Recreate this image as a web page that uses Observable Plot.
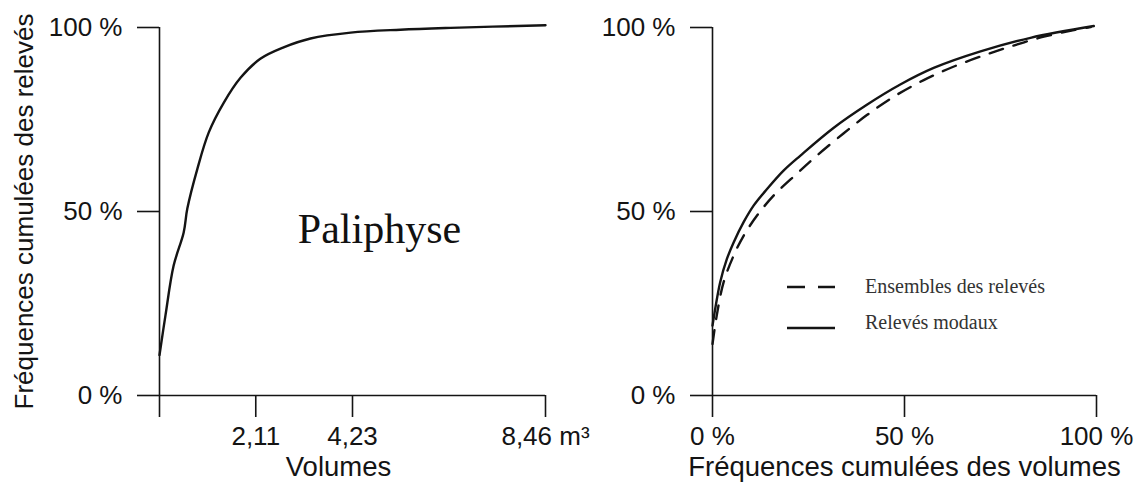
<!DOCTYPE html>
<html><head><meta charset="utf-8">
<script src="https://cdn.jsdelivr.net/npm/d3@7"></script>
<script src="https://cdn.jsdelivr.net/npm/@observablehq/plot@0.6"></script>
<style>
body{margin:0;background:#fff;}
#wrap{position:relative;width:1145px;height:484px;overflow:hidden;background:#fff;}
#left{position:absolute;left:0;top:0;}
#right{position:absolute;left:580px;top:0;}
#legend{position:absolute;left:780px;top:270px;}
svg{overflow:visible;}
</style></head><body>
<div id="wrap"><div id="left"></div><div id="right"></div><div id="legend"></div></div>
<script>
// ---- Left panel: cumulative frequency of records vs volume (m3)
const volumes      = [0, 0.13, 0.31, 0.53, 0.61, 0.83, 1.08, 1.41, 1.78, 2.21, 2.72, 3.31, 4.19, 5.28, 6.38, 8.46];
const cumReleves   = [11, 21.7, 35.3, 44.3, 50.8, 61.6, 71.5, 79.6, 86.4, 91.5, 94.6, 97.0, 98.6, 99.4, 99.9, 100.6];
const volumeTicks  = [0, 2.11, 4.23, 8.46];
const volumeTickLabels = ["", "2,11", "4,23", "8,46 m³"];

// ---- Right panel: cumulative frequency of records vs cumulative frequency of volumes
const freqEnsemble = [0, 1.1, 2.9, 5.5, 8.1, 11.6, 15.9, 22.0, 27.2, 34.1, 40.2, 47.2, 55.0, 62.4, 70.6, 78.4, 86.3, 94.1, 98.5];
const cumEnsemble  = [14.0, 21.7, 30.8, 38.0, 43.4, 48.9, 54.3, 60.3, 65.2, 71.2, 76.2, 81.2, 85.7, 89.2, 92.4, 95.1, 97.5, 99.3, 100.1];
const freqModaux   = [0, 0.7, 2.0, 3.75, 5.5, 8.1, 10.7, 14.2, 18.5, 22.9, 31.5, 40.2, 48.9, 57.6, 69.8, 82.8, 99.3];
const cumModaux    = [19.0, 23.5, 30.8, 37.1, 41.6, 47.1, 51.6, 56.1, 61.1, 65.2, 72.7, 79.0, 84.5, 89.0, 93.5, 97.2, 100.4];

const pctTicks = [0, 50, 100];
const seriesNames = ["Ensembles des relevés", "Relevés modaux"];
const panelTitle = "Paliphyse";
const yLabel = "Fréquences cumulées des relevés";
const xLabelLeft = "Volumes";
const xLabelRight = "Fréquences cumulées des volumes";

const ink = "#141414";
const sans = "'Liberation Sans', Arial, Helvetica, sans-serif";
const serif = "'Liberation Serif', 'Times New Roman', serif";
const pctFmt = d => d + " %";

const leftData = volumes.map((v, i) => ({v, c: cumReleves[i]}));
const ensData = freqEnsemble.map((f, i) => ({f, c: cumEnsemble[i]}));
const modData = freqModaux.map((f, i) => ({f, c: cumModaux[i]}));

const left = Plot.plot({
  width: 580, height: 484,
  marginLeft: 159, marginRight: 35, marginTop: 27, marginBottom: 89,
  style: {fontFamily: sans, fontSize: "26px", color: ink, background: "transparent", overflow: "visible"},
  x: {domain: [0, 8.46]},
  y: {domain: [0, 100]},
  marks: [
    Plot.ruleX([0], {stroke: ink, strokeWidth: 1.6}),
    Plot.ruleY([0], {stroke: ink, strokeWidth: 1.6}),
    Plot.axisY(pctTicks, {tickSize: 22, tickPadding: 15, tickFormat: pctFmt, label: null, strokeWidth: 1.6, stroke: ink}),
    Plot.axisX(volumeTicks, {tickSize: 22, tickPadding: 9, tickFormat: d => volumeTickLabels[volumeTicks.indexOf(d)], label: null, strokeWidth: 1.6, stroke: ink}),
    Plot.line(leftData, {x: "v", y: "c", curve: "catmull-rom", stroke: ink, strokeWidth: 2.4}),
    Plot.text([yLabel], {text: d => d, frameAnchor: "left", rotate: -90, dx: -135, textAnchor: "middle", lineAnchor: "middle", fill: ink}),
    Plot.text([xLabelLeft], {text: d => d, frameAnchor: "bottom", dx: -14, dy: 80, lineAnchor: "bottom", fontSize: 27.5, fill: ink}),
    Plot.text([panelTitle], {text: d => d, frameAnchor: "middle", dx: 27, dy: 31, lineAnchor: "bottom", fontFamily: serif, fontSize: 42, fill: "#111"})
  ]
});
document.getElementById("left").appendChild(left);

const right = Plot.plot({
  width: 565, height: 484,
  marginLeft: 132, marginRight: 49, marginTop: 27, marginBottom: 89,
  style: {fontFamily: sans, fontSize: "26px", color: ink, background: "transparent", overflow: "visible"},
  x: {domain: [0, 100]},
  y: {domain: [0, 100]},
  marks: [
    Plot.ruleX([0], {stroke: ink, strokeWidth: 1.6}),
    Plot.ruleY([0], {stroke: ink, strokeWidth: 1.6}),
    Plot.axisY(pctTicks, {tickSize: 22, tickPadding: 15, tickFormat: pctFmt, label: null, strokeWidth: 1.6, stroke: ink}),
    Plot.axisX(pctTicks, {tickSize: 22, tickPadding: 9, tickFormat: pctFmt, label: null, strokeWidth: 1.6, stroke: ink}),
    Plot.line(ensData, {x: "f", y: "c", curve: "catmull-rom", stroke: ink, strokeWidth: 2.4, strokeDasharray: "14,11"}),
    Plot.line(modData, {x: "f", y: "c", curve: "catmull-rom", stroke: ink, strokeWidth: 2.4}),
    Plot.text([xLabelRight], {text: d => d, frameAnchor: "bottom", dy: 80, lineAnchor: "bottom", fontSize: 27.5, fill: ink})
  ]
});
document.getElementById("right").appendChild(right);

// legend (inside the right panel)
const ns = "http://www.w3.org/2000/svg";
const lg = document.createElementNS(ns, "svg");
lg.setAttribute("width", 300); lg.setAttribute("height", 80);
const rows = [
  {name: seriesNames[0], dash: "18,13", ly: 17, ty: 22.5},
  {name: seriesNames[1], dash: null, ly: 58, ty: 58.5}
];
rows.forEach(r => {
  const l = document.createElementNS(ns, "line");
  l.setAttribute("x1", 7); l.setAttribute("x2", 55);
  l.setAttribute("y1", r.ly); l.setAttribute("y2", r.ly);
  l.setAttribute("stroke", ink); l.setAttribute("stroke-width", 2.6);
  if (r.dash) l.setAttribute("stroke-dasharray", r.dash);
  lg.appendChild(l);
  const t = document.createElementNS(ns, "text");
  t.setAttribute("x", 85); t.setAttribute("y", r.ty);
  t.setAttribute("font-family", serif); t.setAttribute("font-size", 20);
  t.setAttribute("fill", "#333");
  t.textContent = r.name;
  lg.appendChild(t);
});
document.getElementById("legend").appendChild(lg);
</script>
</body></html>
